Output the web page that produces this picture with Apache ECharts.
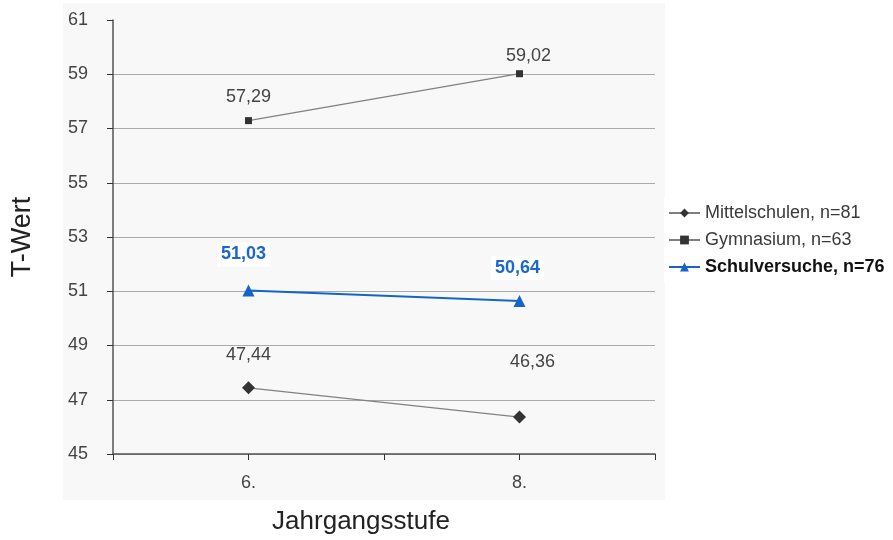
<!DOCTYPE html>
<html>
<head>
<meta charset="utf-8">
<script src="https://cdn.jsdelivr.net/npm/echarts@6/dist/echarts.min.js"></script>
<style>
html,body{margin:0;padding:0;background:#fff;}
#c{width:893px;height:540px;}
</style>
</head>
<body>
<div id="c"></div>
<script>
const categories = ['6.', '8.'];
const mittelschulen = [47.44, 46.36];
const gymnasium = [57.29, 59.02];
const schulversuche = [51.03, 50.64];
const seriesNames = ['Mittelschulen, n=81', 'Gymnasium, n=63', 'Schulversuche, n=76'];
const yTicks = { min: 45, max: 61, step: 2 };

const pos = i => 2 * i + 1; // category centre on a half-step value axis
const fmt = v => v.toFixed(2).replace('.', ',');

function build(values, offsets) {
  return values.map((v, i) => ({
    value: [pos(i), v],
    label: { offset: offsets[i] }
  }));
}

const chart = echarts.init(document.getElementById('c'));
const FONT = 'Liberation Sans';
chart.setOption({
  animation: false,
  backgroundColor: '#ffffff',
  textStyle: { fontFamily: FONT },
  graphic: [{
    type: 'rect', z: -100, silent: true,
    shape: { x: 63, y: 3, width: 602, height: 497 },
    style: { fill: '#f8f8f8' }
  }],
  grid: { left: 113, right: 238, top: 20, bottom: 85 },
  legend: {
    orient: 'vertical', left: 664, top: 198,
    backgroundColor: '#ffffff',
    padding: [6, 4, 6, 4],
    itemGap: 9, itemWidth: 31, itemHeight: 11,
    textStyle: { fontSize: 18, color: '#3a3a3a', fontFamily: FONT },
    data: [
      { name: seriesNames[0] },
      { name: seriesNames[1] },
      { name: seriesNames[2], textStyle: { fontWeight: 'bold', color: '#111' } }
    ]
  },
  xAxis: {
    type: 'value', min: 0, max: 2 * categories.length, interval: 1,
    name: 'Jahrgangsstufe', nameLocation: 'middle', nameGap: 55,
    nameTextStyle: { fontSize: 26, color: '#222', fontFamily: FONT, padding: [0, 46, 0, 0] },
    axisLine: { lineStyle: { color: '#555', width: 1.5 } },
    axisTick: { show: true, length: 6, lineStyle: { color: '#333' } },
    axisLabel: {
      fontSize: 18, color: '#444', margin: 20,
      formatter: v => (v % 2 === 1 ? categories[(v - 1) / 2] : '')
    },
    splitLine: { show: false }
  },
  yAxis: {
    type: 'value', min: yTicks.min, max: yTicks.max, interval: yTicks.step,
    name: 'T-Wert', nameLocation: 'middle', nameGap: 77,
    nameTextStyle: { fontSize: 27, color: '#222', fontFamily: FONT },
    axisLine: { show: true, lineStyle: { color: '#555', width: 1.5 } },
    axisTick: { show: true, length: 6, lineStyle: { color: '#333' } },
    axisLabel: { fontSize: 18, color: '#444', margin: 25 },
    splitLine: {
      show: true,
      lineStyle: { color: ['#aaa', '#aaa', '#aaa', '#aaa', '#aaa', '#aaa', '#aaa', '#aaa', 'rgba(0,0,0,0)'], width: 1 }
    }
  },
  series: [
    {
      name: seriesNames[0], type: 'line',
      data: build(mittelschulen, [[0, -12], [13, -35]]),
      symbol: 'diamond', symbolSize: 13,
      itemStyle: { color: '#333' },
      lineStyle: { color: '#808080', width: 1.2 },
      label: { show: true, position: 'top', distance: 5, fontSize: 18, color: '#444', formatter: p => fmt(p.value[1]) }
    },
    {
      name: seriesNames[1], type: 'line',
      data: build(gymnasium, [[0, -6], [9, 0]]),
      symbol: 'rect', symbolSize: 7,
      itemStyle: { color: '#333' },
      lineStyle: { color: '#808080', width: 1.2 },
      label: { show: true, position: 'top', distance: 5, fontSize: 18, color: '#444', formatter: p => fmt(p.value[1]) }
    },
    {
      name: seriesNames[2], type: 'line',
      data: build(schulversuche, [[-5, -13], [-2, -10]]),
      symbol: 'triangle', symbolSize: 12,
      itemStyle: { color: '#1565c8' },
      lineStyle: { color: '#1565c8', width: 2 },
      label: {
        show: true, position: 'top', distance: 5, fontSize: 18, fontWeight: 'bold',
        color: '#1a68cc', backgroundColor: '#ffffff', padding: [3, 4],
        formatter: p => fmt(p.value[1])
      }
    }
  ]
});
</script>
</body>
</html>
